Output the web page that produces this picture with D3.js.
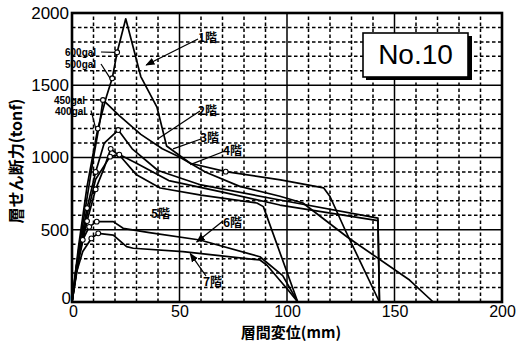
<!DOCTYPE html>
<html><head><meta charset="utf-8">
<script src="https://cdn.jsdelivr.net/npm/d3@7"></script>
<style>
body{margin:0;background:#fff;}
svg{display:block;}
text{font-family:"Liberation Sans",Arial,sans-serif;fill:#000;}
.jp{font-family:"Noto Sans CJK JP",sans-serif;font-weight:700;}
</style></head>
<body>
<svg id="c" width="520" height="341"></svg>
<script>
// ---- data (x: 層間変位 mm, y: 層せん断力 tonf) ----
const xTicks = [0, 50, 100, 150, 200];
const yTicks = [0, 500, 1000, 1500, 2000];
const xMinor = [10,20,30,40,60,70,80,90,110,120,130,140,160,170,180,190];
const yMinor = [100,200,300,400,600,700,800,900,1100,1200,1300,1400,1600,1700,1800,1900];

const story1 = [[0,0],[3,380],[7,800],[12,1200],[16,1420],[18.7,1548],[21,1728],[25,1960],[32,1560],[39.5,1349],[44,1080],[55,960],[71.5,902],[97,845],[117,790],[120,730],[127,500],[143,0]];
const story2 = [[0,0],[3,350],[7,720],[10,1000],[13,1250],[14.4,1398],[22,1290],[32,1160],[42,1060],[50,1003],[62,900],[78,800],[96.7,732],[107.4,685],[128,450],[157,152],[168,0]];
const story3 = [[0,0],[3,320],[7,650],[11,900],[15,1100],[21.5,1190],[28,1060],[40,910],[60,810],[96.7,706],[142.3,581],[143,0]];
const story4 = [[0,0],[3,300],[7,600],[11,850],[17.7,1006],[22,1020],[30,960],[45,840],[70,760],[96.7,671],[142.3,563],[143,0]];
const story5 = [[0,0],[3,280],[7,560],[11,780],[15,930],[18,1060],[23,1000],[30,880],[41,789],[60,740],[86,685],[89,660],[105,0]];
const story6 = [[0,0],[2,250],[5,430],[8,520],[11.5,556],[19.2,556],[23.8,510],[36,480],[59.5,429],[87.4,313],[98,182],[105,0]];
const story7 = [[0,0],[2,200],[5,350],[9,440],[12.2,475],[19.2,463],[25.4,383],[28.5,372],[51.6,348],[87.4,291],[90.6,256],[100.5,83],[105,0]];
const stories = [story1, story2, story3, story4, story5, story6, story7];

// response markers (excitation levels)
const markers = [[18.7,1548],[21,1728],[14.4,1398],[12,1200],[21.5,1190],[17.7,1006],[22,1020],[18,1060],[71.5,902],[11,900],[11,780],[7,650],[7,560],[8,520],[9,440],[5,430],[11.5,556],[12.2,475]];

const galLabels = ["600gal","500gal","450gal","400gal"];
const galPoints = [[21,1728],[18.7,1548],[14.4,1398],[12,1200]];

const storyLabels = ["1階","2階","3階","4階","5階","6階","7階"];
const storyArrowTips = [[34.5,1640],[40,1130],[47,1060],[55,950],null,[58,415],[55,335]];

const xTitle = "層間変位(mm)";
const yTitle = "層せん断力(tonf)";
const caseLabel = "No.10";

// ---- layout ----
const svg = d3.select("#c");
const x = d3.scaleLinear().domain([0,200]).range([72,502]);
const y = d3.scaleLinear().domain([0,2000]).range([302,13]);

const g = svg.append("g");
// minor grid (dashed)
g.selectAll(".mx").data(xMinor).join("line")
  .attr("x1",d=>x(d)).attr("x2",d=>x(d)).attr("y1",y(0)).attr("y2",y(2000))
  .attr("stroke","#000").attr("stroke-width",1.5).attr("stroke-dasharray","3.5,2.5");
g.selectAll(".my").data(yMinor).join("line")
  .attr("y1",d=>y(d)).attr("y2",d=>y(d)).attr("x1",x(0)).attr("x2",x(200))
  .attr("stroke","#000").attr("stroke-width",1.5).attr("stroke-dasharray","3.5,2.5");
// major grid (solid)
g.selectAll(".Mx").data(xTicks.slice(1,-1)).join("line")
  .attr("x1",d=>x(d)).attr("x2",d=>x(d)).attr("y1",y(0)).attr("y2",y(2000))
  .attr("stroke","#000").attr("stroke-width",1.5);
g.selectAll(".My").data(yTicks.slice(1,-1)).join("line")
  .attr("y1",d=>y(d)).attr("y2",d=>y(d)).attr("x1",x(0)).attr("x2",x(200))
  .attr("stroke","#000").attr("stroke-width",1.5);

// axes with d3 (tick labels), domain hidden
const xAxis = d3.axisBottom(x).tickValues(xTicks).tickSize(0).tickPadding(4).tickFormat(d3.format("d"));
const gx = svg.append("g").attr("transform",`translate(0,${y(0)})`).call(xAxis);
gx.select(".domain").remove();
gx.selectAll("text").attr("font-size",16).attr("font-family","Liberation Sans, Arial, sans-serif").attr("dy","0.7em");
const yAxis = d3.axisLeft(y).tickValues(yTicks).tickSize(0).tickPadding(3).tickFormat(d3.format("d"));
const gy = svg.append("g").attr("transform",`translate(${x(0)},0)`).call(yAxis);
gy.select(".domain").remove();
gy.selectAll("text").attr("font-size",17).attr("font-family","Liberation Sans, Arial, sans-serif");
gy.selectAll(".tick").filter(d=>d===0).select("text").attr("dy","0.1em").attr("dx","2");
gx.selectAll(".tick").filter(d=>d===0).select("text").attr("dx","1");

// frame
svg.append("rect").attr("x",x(0)).attr("y",y(2000)).attr("width",x(200)-x(0)).attr("height",y(0)-y(2000))
  .attr("fill","none").attr("stroke","#000").attr("stroke-width",2.6);

// curves
const line = d3.line().x(d=>x(d[0])).y(d=>y(d[1]));
svg.selectAll(".curve").data(stories).join("path")
  .attr("d",line).attr("fill","none").attr("stroke","#000").attr("stroke-width",1.7).attr("stroke-linejoin","round");

// markers
svg.selectAll(".mk").data(markers).join("circle")
  .attr("cx",d=>x(d[0])).attr("cy",d=>y(d[1])).attr("r",2.4)
  .attr("fill","#fff").attr("stroke","#000").attr("stroke-width",1.1);

// gal labels
const galText = [[65,56],[65,68],[54,104],[55,114.5]];
galLabels.forEach((t,i)=>{
  svg.append("text").attr("x",galText[i][0]).attr("y",galText[i][1]).attr("font-size",10).attr("font-weight","bold").text(t);
  svg.append("line").attr("x1",galText[i][0]+36).attr("y1",galText[i][1]-4)
    .attr("x2",x(galPoints[i][0])-2).attr("y2",y(galPoints[i][1]))
    .attr("stroke","#000").attr("stroke-width",1.2);
});

// story labels + leaders
const storyTextPos = [[198,42],[198,115],[200,142],[223,155],[151,218],[223,227],[203,286]];
const storyLeadStart = [[198,39],[200,111],[201,139],[225,151],null,[223,221],[206,276]];
svg.append("defs").append("marker").attr("id","ah").attr("viewBox","0 0 10 10").attr("refX",9).attr("refY",5)
  .attr("markerWidth",7).attr("markerHeight",7).attr("orient","auto")
  .append("path").attr("d","M0,1 L10,5 L0,9 z").attr("fill","#000");
storyLabels.forEach((t,i)=>{
  svg.append("text").attr("class","jp").attr("x",storyTextPos[i][0]).attr("y",storyTextPos[i][1]).attr("font-size",12).text(t);
  if(storyLeadStart[i] && storyArrowTips[i]){
    svg.append("line").attr("x1",storyLeadStart[i][0]).attr("y1",storyLeadStart[i][1])
      .attr("x2",x(storyArrowTips[i][0])).attr("y2",y(storyArrowTips[i][1]))
      .attr("stroke","#000").attr("stroke-width",1.3).attr("marker-end", i===0||i>=5 ? "url(#ah)" : null);
  }
});

// case label box with shadow
svg.append("rect").attr("x",366).attr("y",36).attr("width",106).attr("height",44).attr("fill","#000");
svg.append("rect").attr("x",363).attr("y",33).attr("width",105).attr("height",44).attr("fill","#fff").attr("stroke","#000").attr("stroke-width",1.6);
svg.append("text").attr("x",415.5).attr("y",64).attr("text-anchor","middle").attr("font-size",28).text(caseLabel);

// axis titles
svg.append("text").attr("class","jp").attr("x",291).attr("y",338).attr("text-anchor","middle").attr("font-size",15).text(xTitle);
svg.append("text").attr("class","jp").attr("transform","translate(22,161) rotate(-90)").attr("text-anchor","middle").attr("font-size",16).text(yTitle);
</script>
</body></html>
